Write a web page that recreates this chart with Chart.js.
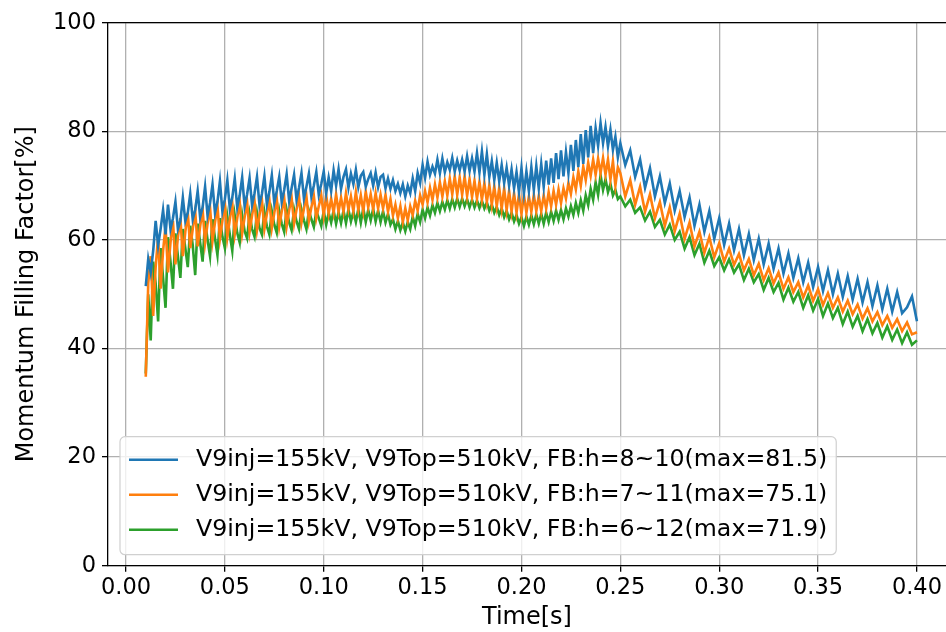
<!DOCTYPE html>
<html>
<head>
<meta charset="utf-8">
<script src="https://cdn.jsdelivr.net/npm/chart.js@4.4.0/dist/chart.umd.min.js"></script>
<style>
  html, body { margin: 0; padding: 0; background: #fff; overflow: hidden; }
</style>
</head>
<body>
<canvas id="mfChart" width="946" height="632"></canvas>
<script>
// Sample times [s]: 1.25 ms steps up to 0.25 s, then 2.5 ms steps
const timeValues = [
  0.01000, 0.01125, 0.01250, 0.01375, 0.01500, 0.01625, 0.01750, 0.01875,
  0.02000, 0.02125, 0.02250, 0.02375, 0.02500, 0.02625, 0.02750, 0.02875,
  0.03000, 0.03125, 0.03250, 0.03375, 0.03500, 0.03625, 0.03750, 0.03875,
  0.04000, 0.04125, 0.04250, 0.04375, 0.04500, 0.04625, 0.04750, 0.04875,
  0.05000, 0.05125, 0.05250, 0.05375, 0.05500, 0.05625, 0.05750, 0.05875,
  0.06000, 0.06125, 0.06250, 0.06375, 0.06500, 0.06625, 0.06750, 0.06875,
  0.07000, 0.07125, 0.07250, 0.07375, 0.07500, 0.07625, 0.07750, 0.07875,
  0.08000, 0.08125, 0.08250, 0.08375, 0.08500, 0.08625, 0.08750, 0.08875,
  0.09000, 0.09125, 0.09250, 0.09375, 0.09500, 0.09625, 0.09750, 0.09875,
  0.10000, 0.10125, 0.10250, 0.10375, 0.10500, 0.10625, 0.10750, 0.10875,
  0.11000, 0.11125, 0.11250, 0.11375, 0.11500, 0.11625, 0.11750, 0.11875,
  0.12000, 0.12125, 0.12250, 0.12375, 0.12500, 0.12625, 0.12750, 0.12875,
  0.13000, 0.13125, 0.13250, 0.13375, 0.13500, 0.13625, 0.13750, 0.13875,
  0.14000, 0.14125, 0.14250, 0.14375, 0.14500, 0.14625, 0.14750, 0.14875,
  0.15000, 0.15125, 0.15250, 0.15375, 0.15500, 0.15625, 0.15750, 0.15875,
  0.16000, 0.16125, 0.16250, 0.16375, 0.16500, 0.16625, 0.16750, 0.16875,
  0.17000, 0.17125, 0.17250, 0.17375, 0.17500, 0.17625, 0.17750, 0.17875,
  0.18000, 0.18125, 0.18250, 0.18375, 0.18500, 0.18625, 0.18750, 0.18875,
  0.19000, 0.19125, 0.19250, 0.19375, 0.19500, 0.19625, 0.19750, 0.19875,
  0.20000, 0.20125, 0.20250, 0.20375, 0.20500, 0.20625, 0.20750, 0.20875,
  0.21000, 0.21125, 0.21250, 0.21375, 0.21500, 0.21625, 0.21750, 0.21875,
  0.22000, 0.22125, 0.22250, 0.22375, 0.22500, 0.22625, 0.22750, 0.22875,
  0.23000, 0.23125, 0.23250, 0.23375, 0.23500, 0.23625, 0.23750, 0.23875,
  0.24000, 0.24125, 0.24250, 0.24375, 0.24500, 0.24625, 0.24750, 0.24875,
  0.25000,
  0.2525, 0.2550, 0.2575, 0.2600,
  0.2625, 0.2650, 0.2675, 0.2700,
  0.2725, 0.2750, 0.2775, 0.2800,
  0.2825, 0.2850, 0.2875, 0.2900,
  0.2925, 0.2950, 0.2975, 0.3000,
  0.3025, 0.3050, 0.3075, 0.3100,
  0.3125, 0.3150, 0.3175, 0.3200,
  0.3225, 0.3250, 0.3275, 0.3300,
  0.3325, 0.3350, 0.3375, 0.3400,
  0.3425, 0.3450, 0.3475, 0.3500,
  0.3525, 0.3550, 0.3575, 0.3600,
  0.3625, 0.3650, 0.3675, 0.3700,
  0.3725, 0.3750, 0.3775, 0.3800,
  0.3825, 0.3850, 0.3875, 0.3900,
  0.3925, 0.3950, 0.3975, 0.4000
];

// FB:h=8~10
const fbH8to10 = [
  51.5, 56.5, 54.0, 58.0, 63.5, 59.0, 62.0, 65.5,
  61.0, 66.5, 62.0, 64.0, 67.0, 62.0, 63.5, 67.8,
  63.5, 65.0, 68.5, 63.8, 65.5, 69.0, 64.2, 66.0,
  69.8, 64.5, 66.8, 70.2, 65.0, 67.0, 70.8, 65.3,
  67.5, 71.0, 65.8, 67.8, 71.3, 66.0, 68.2, 71.5,
  66.2, 68.4, 71.4, 66.4, 68.6, 71.6, 66.5, 68.5,
  71.7, 66.6, 68.8, 71.9, 66.8, 69.0, 71.6, 67.0,
  69.2, 72.1, 67.2, 69.5, 72.0, 67.4, 69.6, 72.3,
  67.6, 69.8, 72.2, 68.0, 70.0, 72.5, 68.3, 70.3,
  72.6, 68.6, 71.5, 69.0, 72.8, 70.0, 73.0, 69.4,
  71.6, 73.0, 69.6, 72.2, 70.3, 72.9, 69.7, 71.8,
  72.5, 69.8, 71.2, 72.3, 70.0, 72.4, 69.7, 71.6,
  72.0, 69.5, 71.3, 69.4, 71.0, 69.0, 70.3, 68.6,
  70.2, 68.0, 70.0, 68.6, 71.3, 69.0, 72.3, 70.5,
  73.8, 71.4, 74.4, 72.0, 73.5, 72.2, 74.8, 72.3,
  75.0, 72.5, 74.3, 72.9, 75.1, 72.6, 74.6, 72.8,
  74.8, 72.6, 75.4, 72.7, 75.0, 72.6, 76.0, 72.4,
  76.3, 72.0, 75.8, 71.6, 74.5, 71.0, 74.2, 70.8,
  73.8, 70.5, 73.3, 70.0, 73.0, 69.5, 72.5, 68.8,
  73.2, 68.6, 72.6, 69.0, 73.4, 69.2, 73.6, 69.5,
  74.0, 69.8, 74.6, 70.2, 75.0, 70.5, 76.0, 71.2,
  76.5, 71.7, 76.2, 72.3, 77.5, 72.7, 78.4, 73.4,
  79.5, 74.0, 80.2, 75.2, 81.0, 76.0, 80.6, 77.3,
  81.5, 77.8, 80.8, 77.2, 80.3, 76.6, 79.0, 75.2,
  77.8,
  73.8, 76.5, 71.6, 74.8,
  69.6, 73.2, 68.0, 71.7,
  66.8, 70.4, 65.4, 69.0,
  64.2, 67.8, 62.6, 66.5,
  61.5, 65.3, 60.2, 64.0,
  59.1, 63.0, 58.1, 62.0,
  57.2, 61.1, 56.3, 60.2,
  55.5, 59.3, 54.7, 58.4,
  53.8, 57.5, 53.0, 56.6,
  52.2, 55.8, 51.3, 55.0,
  50.6, 54.4, 50.0, 53.8,
  49.5, 53.3, 49.0, 52.8,
  48.5, 52.2, 47.8, 51.6,
  47.2, 51.0, 46.8, 50.4,
  46.5, 47.6, 49.6, 45.0
];

// FB:h=7~11
const fbH7to11 = [
  34.8, 52.0, 57.0, 46.0, 55.0, 60.5, 51.0, 58.0,
  62.5, 54.0, 59.5, 63.5, 55.5, 60.5, 64.0, 57.0,
  61.5, 65.0, 58.5, 62.0, 65.3, 58.8, 62.5, 65.6,
  59.5, 63.0, 66.0, 59.8, 63.2, 66.3, 60.2, 63.5,
  66.8, 60.5, 63.8, 66.8, 61.0, 64.0, 67.0, 61.2,
  64.2, 67.0, 61.5, 64.5, 67.2, 61.8, 64.6, 67.3,
  62.0, 64.8, 67.4, 62.2, 65.0, 67.6, 62.4, 65.2,
  67.8, 62.5, 65.4, 67.8, 63.0, 65.6, 68.0, 63.2,
  65.8, 68.0, 63.5, 66.0, 68.1, 64.0, 66.2, 68.2,
  64.5, 68.2, 64.9, 67.6, 65.0, 68.4, 65.2, 67.8,
  65.2, 68.6, 65.6, 68.0, 65.3, 68.8, 65.5, 68.2,
  65.3, 68.9, 66.0, 68.4, 65.6, 68.6, 65.8, 68.3,
  65.8, 68.3, 65.2, 67.5, 64.5, 66.5, 64.0, 66.2,
  63.3, 65.8, 63.6, 66.2, 64.6, 67.2, 65.4, 68.2,
  66.5, 69.0, 66.9, 69.6, 67.4, 70.2, 67.8, 70.6,
  68.0, 70.8, 68.2, 71.3, 68.4, 71.7, 68.3, 71.5,
  68.3, 71.7, 68.1, 71.2, 67.9, 70.9, 67.6, 70.7,
  67.4, 70.5, 67.0, 70.1, 66.5, 69.9, 66.2, 69.6,
  65.8, 69.5, 65.5, 69.0, 65.2, 68.6, 65.0, 68.4,
  64.8, 68.2, 65.0, 68.0, 65.2, 68.3, 65.3, 68.1,
  65.3, 68.2, 65.8, 68.8, 66.2, 69.0, 66.5, 69.3,
  66.8, 69.5, 67.6, 70.5, 68.5, 71.5, 69.3, 72.6,
  70.0, 73.5, 71.0, 74.2, 71.8, 74.8, 72.0, 75.0,
  72.3, 75.1, 72.0, 74.8, 71.1, 74.5, 70.0, 73.4,
  72.3,
  68.0, 71.0, 66.5, 69.8,
  65.2, 68.4, 64.0, 67.0,
  62.6, 66.0, 61.6, 64.8,
  60.2, 63.2, 58.8, 61.5,
  57.6, 60.5, 56.8, 59.4,
  56.0, 58.4, 55.4, 57.4,
  54.4, 56.5, 53.5, 55.6,
  52.6, 54.8, 52.0, 54.0,
  51.0, 53.1, 50.4, 52.2,
  49.4, 51.6, 48.8, 50.9,
  48.0, 50.2, 47.5, 49.4,
  46.8, 48.8, 46.3, 48.1,
  45.5, 47.4, 45.0, 46.7,
  44.3, 46.0, 43.8, 45.4,
  43.2, 44.8, 42.6, 43.0
];

// FB:h=6~12
const fbH6to12 = [
  35.4, 50.0, 41.5, 56.0, 52.0, 45.0, 58.5, 53.0,
  47.5, 60.5, 56.0, 51.0, 61.2, 57.0, 53.0, 62.0,
  58.5, 55.0, 62.6, 59.0, 53.5, 63.0, 59.5, 56.0,
  63.5, 60.0, 57.0, 63.8, 60.3, 57.2, 64.0, 60.6,
  58.5, 64.3, 61.0, 58.0, 64.5, 61.3, 59.5, 64.6,
  61.6, 60.3, 64.8, 62.0, 60.6, 65.0, 62.2, 61.0,
  65.2, 62.5, 61.0, 65.3, 62.8, 61.3, 65.4, 63.0,
  61.5, 65.5, 63.2, 61.8, 65.6, 63.4, 62.0, 65.6,
  63.6, 62.0, 65.4, 63.8, 62.4, 65.3, 64.0, 62.6,
  65.3, 62.8, 65.0, 63.2, 65.4, 63.0, 65.1, 63.1,
  65.4, 63.1, 65.6, 63.4, 65.2, 63.3, 65.7, 63.2,
  65.8, 63.3, 65.5, 63.6, 65.7, 63.4, 65.4, 63.3,
  65.3, 63.2, 64.8, 62.8, 63.8, 62.0, 63.5, 61.8,
  63.2, 61.6, 63.3, 62.0, 64.3, 62.6, 64.8, 63.3,
  65.6, 64.0, 66.0, 64.5, 66.4, 65.0, 66.8, 65.3,
  67.0, 65.6, 67.3, 65.8, 67.5, 66.0, 67.6, 66.1,
  67.6, 66.2, 67.5, 66.0, 67.4, 66.0, 67.3, 65.9,
  67.2, 65.8, 66.9, 65.4, 66.5, 65.0, 66.1, 64.6,
  65.8, 64.2, 65.4, 63.8, 65.0, 63.4, 64.6, 63.0,
  64.2, 62.6, 64.3, 62.8, 64.5, 62.9, 64.7, 63.0,
  64.8, 63.0, 65.0, 63.3, 65.2, 63.5, 65.4, 63.7,
  65.5, 63.8, 65.8, 64.3, 66.2, 64.6, 66.8, 65.0,
  67.3, 65.4, 68.2, 66.4, 69.4, 67.4, 70.6, 68.3,
  71.9, 69.2, 71.2, 68.8, 70.3, 68.2, 69.2, 67.5,
  68.0,
  66.2, 67.4, 65.0, 66.0,
  63.6, 65.2, 62.4, 63.7,
  61.0, 62.8, 60.0, 61.5,
  58.4, 60.5, 57.2, 59.3,
  55.8, 58.0, 55.2, 56.8,
  54.4, 56.4, 54.0, 55.5,
  52.6, 54.7, 52.2, 53.7,
  50.8, 53.0, 50.4, 52.1,
  49.0, 51.2, 48.6, 50.4,
  47.5, 49.8, 47.0, 49.1,
  46.0, 48.3, 45.6, 47.5,
  44.5, 46.8, 44.0, 46.0,
  43.2, 45.4, 42.8, 44.7,
  42.0, 44.1, 41.6, 43.5,
  41.0, 43.0, 40.7, 41.5
];

const seriesLabels = [
  'V9inj=155kV, V9Top=510kV, FB:h=8~10(max=81.5)',
  'V9inj=155kV, V9Top=510kV, FB:h=7~11(max=75.1)',
  'V9inj=155kV, V9Top=510kV, FB:h=6~12(max=71.9)',
];
const seriesColors = ['#1f77b4', '#ff7f0e', '#2ca02c'];
const xTickValues = [0, 0.05, 0.10, 0.15, 0.20, 0.25, 0.30, 0.35, 0.40];
const yTickValues = [0, 20, 40, 60, 80, 100];

const baseFont = '"DejaVu Sans", sans-serif';
const tickSize = 22.5;
const labelSize = 24;
const legendSize = 23.7;

const toPoints = (vals) => timeValues.map((t, i) => ({x: t, y: vals[i]}));

// matplotlib-like top spine plus the boxed legend inside the axes
const frameAndLegend = {
  id: 'frameAndLegend',
  afterDatasetsDraw(chart) {
    const {ctx, chartArea: a} = chart;
    ctx.save();
    ctx.strokeStyle = '#000';
    ctx.lineWidth = 1.3;
    ctx.beginPath();
    ctx.moveTo(a.left, a.top);
    ctx.lineTo(a.right, a.top);
    ctx.stroke();

    ctx.font = `${legendSize}px ${baseFont}`;
    const textW = Math.max(...seriesLabels.map((s) => ctx.measureText(s).width));
    const rowH = 35;
    const boxW = 9 + 49 + 18 + textW + 9;
    const boxH = 118;
    const boxX = a.left + 12;
    const boxY = a.bottom - 11 - boxH;
    ctx.beginPath();
    ctx.roundRect(boxX, boxY, boxW, boxH, 5);
    ctx.fillStyle = 'rgba(255,255,255,0.8)';
    ctx.fill();
    ctx.strokeStyle = '#d0d0d0';
    ctx.lineWidth = 1.2;
    ctx.stroke();

    ctx.textBaseline = 'middle';
    ctx.textAlign = 'left';
    seriesLabels.forEach((label, i) => {
      const cy = boxY + 23 + i * rowH;
      ctx.strokeStyle = seriesColors[i];
      ctx.lineWidth = 2.6;
      ctx.beginPath();
      ctx.moveTo(boxX + 9, cy);
      ctx.lineTo(boxX + 58, cy);
      ctx.stroke();
      ctx.fillStyle = '#000';
      ctx.fillText(label, boxX + 76, cy);
    });
    ctx.restore();
  },
};

new Chart(document.getElementById('mfChart'), {
  type: 'line',
  data: {
    datasets: seriesLabels.map((label, i) => ({
      label,
      data: toPoints([fbH8to10, fbH7to11, fbH6to12][i]),
      borderColor: seriesColors[i],
      borderWidth: 2.6,
      pointRadius: 0,
      tension: 0,
      fill: false,
    })),
  },
  options: {
    responsive: false,
    animation: false,
    layout: {padding: {top: 22.7, right: 0, left: 0, bottom: 0}},
    plugins: {legend: {display: false}, tooltip: {enabled: false}},
    scales: {
      x: {
        type: 'linear',
        min: -0.0091,
        max: 0.4147,
        afterBuildTicks: (scale) => {
          scale.ticks = xTickValues.map((v) => ({value: v}));
        },
        afterFit: (scale) => {
          scale.height = 66.3;
        },
        ticks: {
          color: '#000',
          font: {family: baseFont, size: tickSize},
          padding: 3,
          maxRotation: 0,
          callback: (v) => v.toFixed(2),
        },
        grid: {color: '#b0b0b0', lineWidth: 1.3, tickLength: 6, tickColor: '#000', tickWidth: 1.3},
        border: {display: true, color: '#000', width: 1.3},
        title: {
          display: true,
          text: 'Time[s]',
          color: '#000',
          font: {family: baseFont, size: labelSize},
          padding: {top: 0, bottom: 0},
        },
      },
      y: {
        min: 0,
        max: 100,
        afterBuildTicks: (scale) => {
          scale.ticks = yTickValues.map((v) => ({value: v}));
        },
        afterFit: (scale) => {
          scale.width = 108;
        },
        ticks: {
          color: '#000',
          font: {family: baseFont, size: tickSize},
          padding: 6,
        },
        grid: {color: '#b0b0b0', lineWidth: 1.3, tickLength: 6, tickColor: '#000', tickWidth: 1.3},
        border: {display: true, color: '#000', width: 1.3},
        title: {
          display: true,
          text: 'Momentum Filling Factor[%]',
          color: '#000',
          font: {family: baseFont, size: labelSize},
          padding: {top: 12.6, bottom: 0},
        },
      },
    },
  },
  plugins: [frameAndLegend],
});
</script>
</body>
</html>
